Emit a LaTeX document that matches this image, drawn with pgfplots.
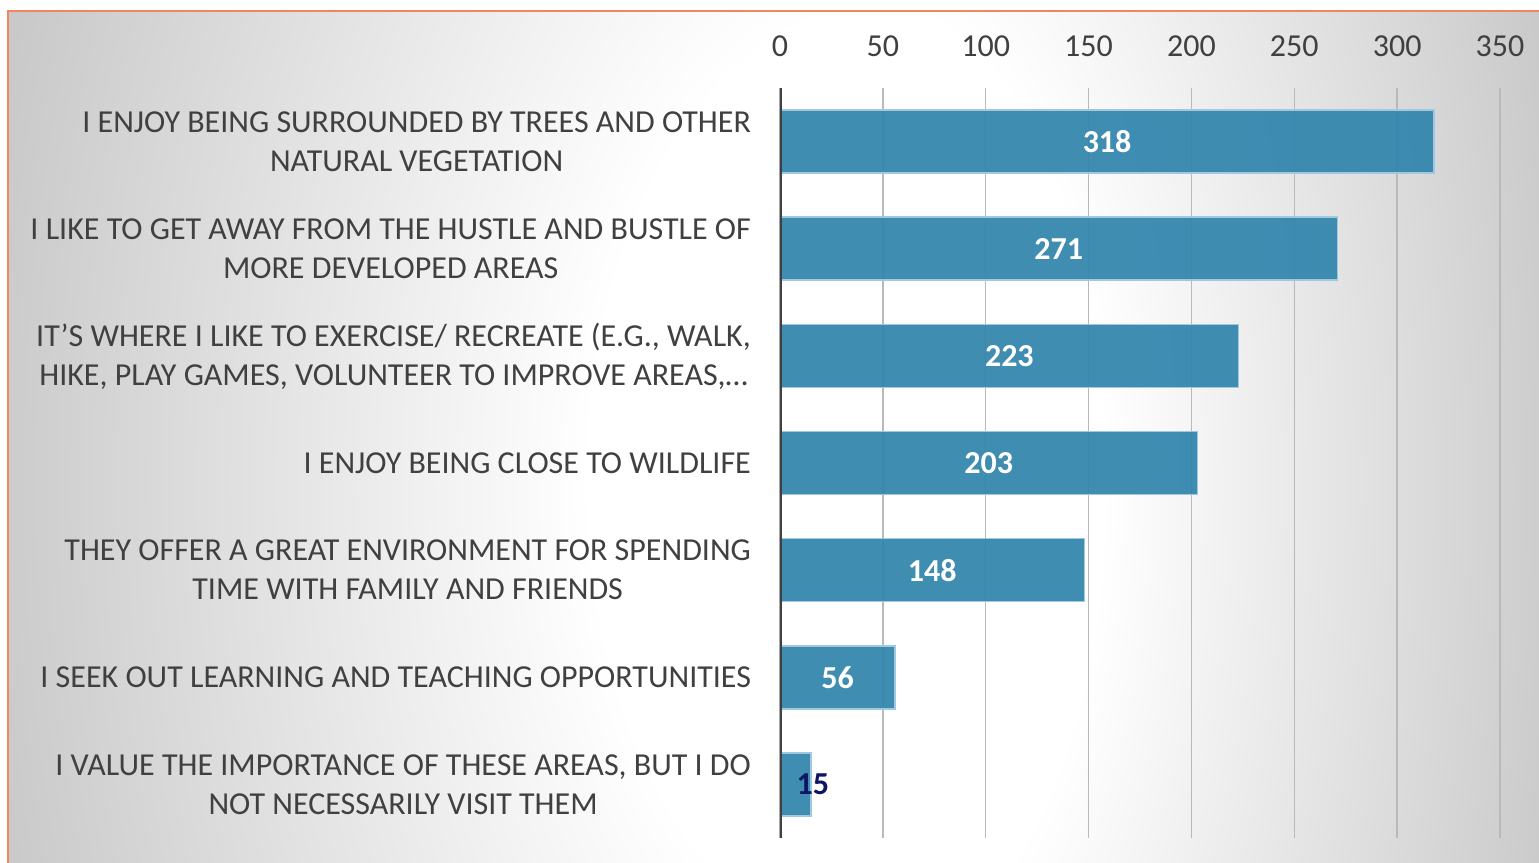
\documentclass[border=0pt]{standalone}
\usepackage{fontspec}
\setmainfont{Carlito}
\usepackage{pgfplots}
\pgfplotsset{compat=1.18}
\definecolor{barblue}{RGB}{50,133,173}
\definecolor{baredge}{RGB}{160,200,225}
\definecolor{txtgray}{RGB}{64,64,64}
\definecolor{bggray}{RGB}{196,196,196}
\definecolor{gridgray}{RGB}{185,185,185}
\definecolor{frameorange}{RGB}{242,135,95}
\definecolor{navy}{RGB}{12,22,100}
\pgfdeclareradialshading{bgshade}{\pgfpoint{0bp}{0bp}}{color(0bp)=(white); color(6.25bp)=(white); color(20.83bp)=(bggray); color(50bp)=(bggray)}
\pgfplotstableread{
x y
318 0
271 1
223 2
203 3
148 4
56 5
}\maindata
\begin{document}
\begin{tikzpicture}
\begin{scope}[x=0.5pt,y=-0.5pt]
\clip (0,0) rectangle (1539,863);
\fill[bggray] (8,11) rectangle (1600,900);
\begin{scope}
\clip (8,11) rectangle (880,900);
\shade[shading=bgshade] (880,480) ellipse [x radius=1158, y radius=1872];
\end{scope}
\begin{scope}
\clip (880,11) rectangle (1600,900);
\shade[shading=bgshade] (880,480) ellipse [x radius=892, y radius=1872];
\end{scope}
\draw[frameorange, line width=1pt] (8,900) -- (8,11) -- (1600,11);
\end{scope}
\begin{axis}[
  at={(390pt,-44pt)}, anchor=north west,
  scale only axis, width=360pt, height=375pt,
  xbar, bar width=31.5pt, bar shift=0pt,
  xmin=0, xmax=350, ymin=-0.5, ymax=6.5, y dir=reverse,
  xtick={0,50,...,350}, ytick={0,...,6},
  xticklabel pos=upper,
  axis line style={draw=none},
  major tick length=0pt,
  xmajorgrids, grid style={gridgray, line width=0.75pt},
  /pgf/number format/assume math mode=true,
  xticklabel style={font=\fontsize{16}{19}\selectfont, text=txtgray, anchor=base, yshift=16pt},
  yticklabel style={font=\fontsize{16}{19.5}\selectfont, text=txtgray, align=center, anchor=east, xshift=-11pt},
  yticklabels={{I ENJOY BEING SURROUNDED BY TREES AND OTHER\\NATURAL VEGETATION},
    {I LIKE TO GET AWAY FROM THE HUSTLE AND BUSTLE OF\\MORE DEVELOPED AREAS},
    {IT’S WHERE I LIKE TO EXERCISE/ RECREATE (E.G., WALK,\\HIKE, PLAY GAMES, VOLUNTEER TO IMPROVE AREAS,…},
    {I ENJOY BEING CLOSE TO WILDLIFE},
    {THEY OFFER A GREAT ENVIRONMENT FOR SPENDING\\TIME WITH FAMILY AND FRIENDS},
    {I SEEK OUT LEARNING AND TEACHING OPPORTUNITIES},
    {I VALUE THE IMPORTANCE OF THESE AREAS, BUT I DO\\NOT NECESSARILY VISIT THEM}},
]
\addplot[fill=barblue, fill opacity=0.93, draw=baredge, line width=0.75pt,
  nodes near coords,
  visualization depends on={rawx/2 \as \halfx},
  every node near coord/.append style={font=\bfseries\fontsize{16}{19}\selectfont, text=white, text opacity=1, anchor=center, shift={(axis direction cs:-\halfx,0)}}]
  table[x=x,y=y] {\maindata};
\addplot[fill=barblue, fill opacity=0.93, draw=baredge, line width=0.75pt,
  nodes near coords,
  every node near coord/.append style={font=\bfseries\fontsize{16}{19}\selectfont, text=navy, text opacity=1, anchor=center, xshift=1pt}]
  coordinates {(15,6)};
\draw[txtgray, line width=2pt] (axis cs:0,-0.5) -- (axis cs:0,6.5);
\end{axis}
\end{tikzpicture}
\end{document}
